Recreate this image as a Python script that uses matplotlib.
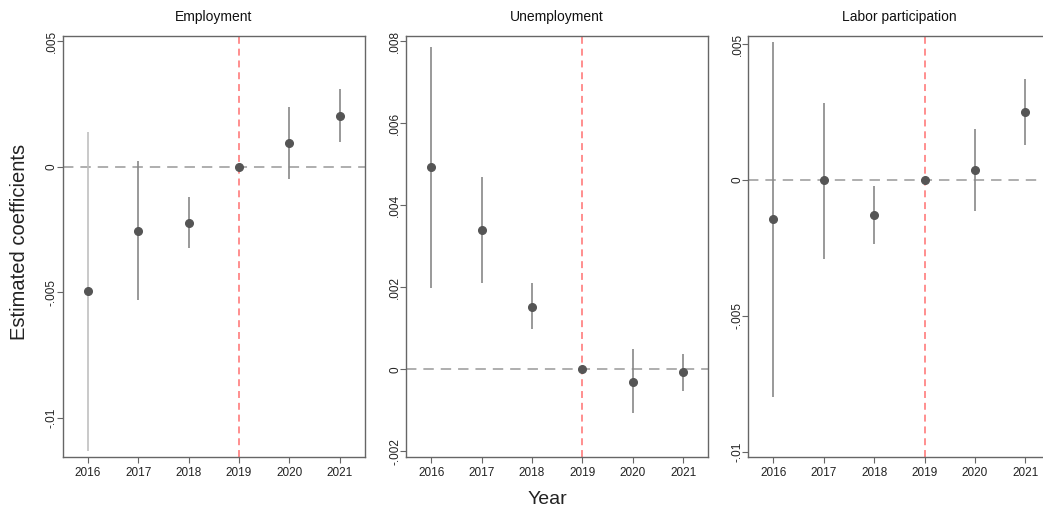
import numpy as np
import matplotlib
matplotlib.use("Agg")
import matplotlib.pyplot as plt

plt.rcParams['font.family'] = ['Liberation Sans', 'DejaVu Sans']
plt.rcParams['lines.scale_dashes'] = False

years = [2016, 2017, 2018, 2019, 2020, 2021]
titles = ["Employment", "Unemployment", "Labor participation"]

emp_coef = [-0.00496, -0.00254, -0.00223, 0.0, 0.00094, 0.00203]
emp_lo = [-0.0113, -0.0053, -0.00324, np.nan, -0.00049, 0.00098]
emp_hi = [0.00138, 0.00021, -0.00121, np.nan, 0.00238, 0.0031]

unemp_coef = [0.00493, 0.0034, 0.00153, 0.0, -0.0003, -0.00007]
unemp_lo = [0.00198, 0.0021, 0.00098, np.nan, -0.00107, -0.00052]
unemp_hi = [0.00787, 0.0047, 0.0021, np.nan, 0.00049, 0.00037]

lab_coef = [-0.00145, -0.00001, -0.00128, 0.0, 0.00038, 0.0025]
lab_lo = [-0.00799, -0.00289, -0.00236, np.nan, -0.00112, 0.00129]
lab_hi = [0.0051, 0.00286, -0.0002, np.nan, 0.00188, 0.00372]

yticks = [[0.005, 0.0, -0.005, -0.01],
          [0.008, 0.006, 0.004, 0.002, 0.0, -0.002],
          [0.005, 0.0, -0.005, -0.01]]
yticklabels = [[".005", "0", "-.005", "-.01"],
               [".008", ".006", ".004", ".002", "0", "-.002"],
               [".005", "0", "-.005", "-.01"]]
ylims = [(-0.01155, 0.0052), (-0.00214, 0.00813), (-0.0102, 0.00531)]

coefs = [emp_coef, unemp_coef, lab_coef]
los = [emp_lo, unemp_lo, lab_lo]
his = [emp_hi, unemp_hi, lab_hi]

W, H = 1043, 516
fig = plt.figure(figsize=(W / 100, H / 100), dpi=100)

lefts = [62.7, 406.0, 748.3]
pw = 302.3
top_px, bot_px = 36, 457

for i in range(3):
    ax = fig.add_axes([lefts[i] / W, 1 - bot_px / H, pw / W, (bot_px - top_px) / H])
    ax.set_xlim(2015.5, 2021.5)
    ax.set_ylim(*ylims[i])
    ax.axhline(0, color='#999999', lw=1.1, linestyle=(0, (7.5, 5)), zorder=1)
    ax.axvline(2019, color='#ff7070', lw=1.1, linestyle=(0, (5, 3.5)), zorder=2)
    ci_colors = ['#888888'] * len(years)
    if i == 0:
        ci_colors[0] = '#c0c0c0'
    ax.vlines(years, los[i], his[i], colors=ci_colors, lw=1.2, zorder=3)
    ax.plot(years, coefs[i], 'o', color='#555555', markersize=5.5, zorder=4)
    ax.set_xticks(years)
    ax.set_xticklabels([str(y) for y in years], fontsize=8.5, color='#222222')
    ax.set_yticks(yticks[i])
    ax.set_yticklabels(yticklabels[i], fontsize=8.5, color='#222222',
                       rotation=90, va='center')
    ax.tick_params(axis='both', length=4.5, width=0.8, color='#666666')
    ax.tick_params(axis='x', pad=3)
    ax.tick_params(axis='y', pad=-1)
    for s in ax.spines.values():
        s.set_color('#666666')
        s.set_linewidth(1.0)
    ax.set_title(titles[i], fontsize=10, pad=11, color='#111111')

fig.text(20 / W, 1 - 242 / H, "Estimated coefficients", rotation=90,
         fontsize=14.5, ha='center', va='center', color='#222222')
fig.text(547 / W, 1 - 499 / H, "Year", fontsize=14, ha='center', va='center',
         color='#222222')

fig.savefig("out.png", dpi=100, facecolor='white')
